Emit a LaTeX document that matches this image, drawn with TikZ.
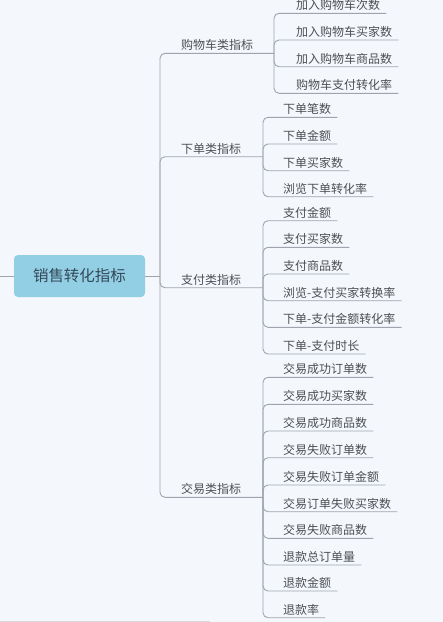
\documentclass[tikz,border=0pt]{standalone}
\usepackage{fontspec}
\setmainfont{Noto Sans CJK SC}
\usepackage{xcolor}
\usetikzlibrary{positioning}

\definecolor{bgcol}{HTML}{F4F8FC}
\definecolor{rootfill}{HTML}{93CFE4}
\definecolor{rootink}{HTML}{34495A}
\definecolor{linecol}{HTML}{9EA3AD}
\definecolor{textcol}{HTML}{4D4F55}

\begin{document}
\begin{tikzpicture}[
  x=1pt, y=-1pt,
  font=\fontsize{12}{14}\selectfont,
  root/.style={fill=rootfill, text=rootink, rounded corners=4pt,
               minimum width=131pt, minimum height=42pt, inner sep=0pt,
               font=\fontsize{15.5}{17}\selectfont},
  branch/.style={anchor=base west, inner sep=0pt, text=textcol},
  leaf/.style={anchor=base west, inner sep=0pt, text=textcol},
  link/.style={draw=linecol, line width=0.9pt, rounded corners=5pt},
  uline/.style={link, shorten >=0pt}
]
\fill[bgcol] (0,0) rectangle (443,622);
\useasboundingbox (0,0) rectangle (443,622);
\draw[draw=black!15, line width=1pt] (0,621) -- (210,621);

% root and trunk
\node[root] (root) at (79.5,276) {销售转化指标};
\coordinate (outer) at (0,276);
\coordinate (trunk) at (160,276);
\draw[link] (outer) -- (root.west);
\draw[link] (root.east) -- (trunk);

% branches
\coordinate (cartj) at (274,53.3);
\coordinate (orderj) at (263,156.7);
\coordinate (payj) at (263,287.7);
\coordinate (tradej) at (263,497.3);
\node[branch] (cart)  at (181,49.6)  {购物车类指标};
\node[branch] (order) at (181,153)   {下单类指标};
\node[branch] (pay)   at (181,284)   {支付类指标};
\node[branch] (trade) at (181,493.6) {交易类指标};
\draw[link] (trunk) |- (cartj);
\draw[link] (trunk) |- (orderj);
\draw[link] (trunk) |- (payj);
\draw[link] (trunk) |- (tradej);

% cart leaves
\node[leaf] (c1) at (296,9.6)  {加入购物车次数};
\node[leaf] (c2) at (296,36.3) {加入购物车买家数};
\node[leaf] (c3) at (296,63)   {加入购物车商品数};
\node[leaf] (c4) at (296,89.6) {购物车支付转化率};
\draw[link] (cartj) |- ([xshift=6pt,yshift=-3.7pt]c1.base east);
\draw[link] (cartj) |- ([xshift=6pt,yshift=-3.7pt]c2.base east);
\draw[link] (cartj) |- ([xshift=6pt,yshift=-3.7pt]c3.base east);
\draw[link] (cartj) |- ([xshift=6pt,yshift=-3.7pt]c4.base east);

% order leaves
\node[leaf] (o1) at (283,113.6) {下单笔数};
\node[leaf] (o2) at (283,140.3) {下单金额};
\node[leaf] (o3) at (283,167)   {下单买家数};
\node[leaf] (o4) at (283,193)   {浏览下单转化率};
\draw[link] (orderj) |- ([xshift=6pt,yshift=-3.7pt]o1.base east);
\draw[link] (orderj) |- ([xshift=6pt,yshift=-3.7pt]o2.base east);
\draw[link] (orderj) |- ([xshift=6pt,yshift=-3.7pt]o3.base east);
\draw[link] (orderj) |- ([xshift=6pt,yshift=-3.7pt]o4.base east);

% pay leaves
\node[leaf] (p1) at (283,217)   {支付金额};
\node[leaf] (p2) at (283,243.6) {支付买家数};
\node[leaf] (p3) at (283,270.3) {支付商品数};
\node[leaf] (p4) at (283,297)   {浏览-支付买家转换率};
\node[leaf] (p5) at (283,323.6) {下单-支付金额转化率};
\node[leaf] (p6) at (283,350.3) {下单-支付时长};
\draw[link] (payj) |- ([xshift=6pt,yshift=-3.7pt]p1.base east);
\draw[link] (payj) |- ([xshift=6pt,yshift=-3.7pt]p2.base east);
\draw[link] (payj) |- ([xshift=6pt,yshift=-3.7pt]p3.base east);
\draw[link] (payj) |- ([xshift=6pt,yshift=-3.7pt]p4.base east);
\draw[link] (payj) |- ([xshift=6pt,yshift=-3.7pt]p5.base east);
\draw[link] (payj) |- ([xshift=6pt,yshift=-3.7pt]p6.base east);

% trade leaves
\node[leaf] (t1)  at (283,373.6) {交易成功订单数};
\node[leaf] (t2)  at (283,400.6) {交易成功买家数};
\node[leaf] (t3)  at (283,427.3) {交易成功商品数};
\node[leaf] (t4)  at (283,454)   {交易失败订单数};
\node[leaf] (t5)  at (283,481.3) {交易失败订单金额};
\node[leaf] (t6)  at (283,508)   {交易订单失败买家数};
\node[leaf] (t7)  at (283,534.6) {交易失败商品数};
\node[leaf] (t8)  at (283,561.3) {退款总订单量};
\node[leaf] (t9)  at (283,587.3) {退款金额};
\node[leaf] (t10) at (283,614)   {退款率};
\draw[link] (tradej) |- ([xshift=6pt,yshift=-3.7pt]t1.base east);
\draw[link] (tradej) |- ([xshift=6pt,yshift=-3.7pt]t2.base east);
\draw[link] (tradej) |- ([xshift=6pt,yshift=-3.7pt]t3.base east);
\draw[link] (tradej) |- ([xshift=6pt,yshift=-3.7pt]t4.base east);
\draw[link] (tradej) |- ([xshift=6pt,yshift=-3.7pt]t5.base east);
\draw[link] (tradej) |- ([xshift=6pt,yshift=-3.7pt]t6.base east);
\draw[link] (tradej) |- ([xshift=6pt,yshift=-3.7pt]t7.base east);
\draw[link] (tradej) |- ([xshift=6pt,yshift=-3.7pt]t8.base east);
\draw[link] (tradej) |- ([xshift=6pt,yshift=-3.7pt]t9.base east);
\draw[link] (tradej) |- ([xshift=6pt,yshift=-3.7pt]t10.base east);
\end{tikzpicture}
\end{document}
